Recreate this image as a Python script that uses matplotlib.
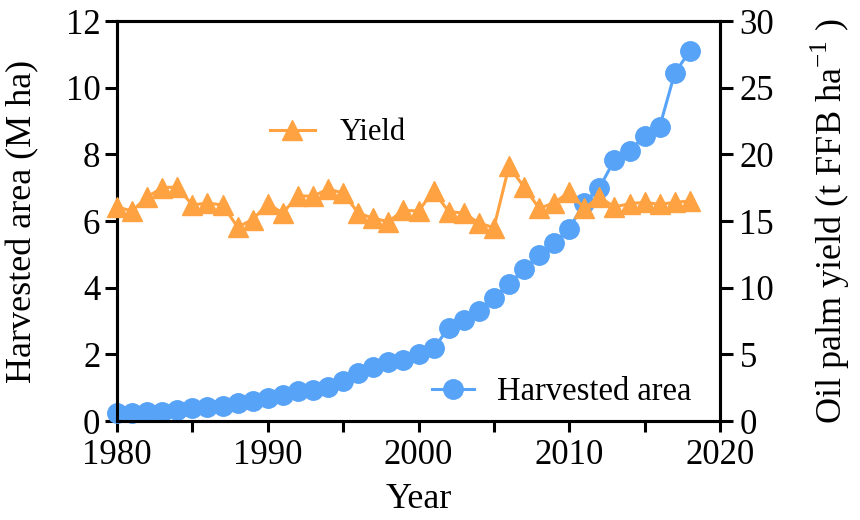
import numpy as np
import matplotlib
matplotlib.use("Agg")
import matplotlib.pyplot as plt
from matplotlib.ticker import MultipleLocator

plt.rcParams["font.family"] = ["Liberation Serif", "DejaVu Serif"]
plt.rcParams["mathtext.fontset"] = "custom"
plt.rcParams["mathtext.rm"] = "Liberation Serif"

# Oil palm harvested area (M ha) and yield (t FFB/ha), 1980-2018
years = list(range(1980, 2019))
harvested_area = [0.24, 0.25, 0.27, 0.28, 0.33, 0.38, 0.42, 0.46, 0.53, 0.60,
                  0.68, 0.78, 0.90, 0.93, 1.03, 1.20, 1.45, 1.62, 1.77, 1.83,
                  2.02, 2.18, 2.79, 3.03, 3.30, 3.70, 4.10, 4.56, 4.97, 5.35,
                  5.77, 6.55, 7.00, 7.83, 8.10, 8.55, 8.83, 10.44, 11.10]
yield_t = [16.05, 15.75, 16.8, 17.5, 17.55, 16.2, 16.35, 16.2, 14.55, 15.1,
           16.3, 15.6, 16.9, 16.85, 17.4, 17.1, 15.6, 15.2, 14.95, 15.8,
           15.75, 17.25, 15.7, 15.6, 14.85, 14.5, 19.1, 17.55, 15.95, 16.35,
           17.2, 15.95, 16.8, 16.05, 16.3, 16.4, 16.25, 16.4, 16.5]

BLUE = "#57a3f8"
ORANGE = "#ffa242"
LW = 2.2


def style_axis(ax):
    for side in ["left", "right", "top", "bottom"]:
        ax.spines[side].set_linewidth(LW)


fig = plt.figure(figsize=(8.6, 5.2), dpi=100)
ax = fig.add_axes([117 / 860, 1 - 421 / 520, 603 / 860, 400 / 520])
ax2 = ax.twinx()

area_line, = ax.plot(years, harvested_area, color=BLUE, lw=2.2, marker="o",
                     ms=14, clip_on=False, zorder=5, label="Harvested area")
yield_line, = ax2.plot(years, yield_t, color=ORANGE, lw=2.2, marker="^",
                       ms=14, clip_on=False, zorder=5, label="Yield")

ax.set_xlim(1980, 2020)
ax.set_ylim(0, 12)
ax2.set_ylim(0, 30)

ax.xaxis.set_major_locator(MultipleLocator(10))
ax.xaxis.set_minor_locator(MultipleLocator(5))
ax.yaxis.set_major_locator(MultipleLocator(2))
ax2.yaxis.set_major_locator(MultipleLocator(5))

ax.tick_params(axis="x", which="both", direction="out", length=8, width=LW,
               labelsize=25, pad=5, top=False)
ax.tick_params(axis="y", direction="out", length=9, width=LW,
               labelsize=25, pad=3)
ax2.tick_params(axis="y", direction="out", length=9, width=LW,
                labelsize=25, pad=5)

style_axis(ax)
style_axis(ax2)

ax.set_xlabel("Year", fontsize=26)
ax.set_ylabel("Harvested area (M ha)", fontsize=26)
ax2.set_ylabel(r"Oil palm yield (t FFB ha$^{\mathregular{-1}}$ )", fontsize=26,
               rotation=90)
ax.xaxis.set_label_coords(0.5, -0.155)
ax.yaxis.set_label_coords(-0.128, 0.5)
ax2.yaxis.set_label_coords(1.148, 0.5)

leg1 = ax2.legend(handles=[yield_line], loc="center left", frameon=False,
                  bbox_to_anchor=(270 / 860, 1 - 133 / 520),
                  bbox_transform=fig.transFigure, borderpad=0,
                  borderaxespad=0, handlelength=1.47, handletextpad=0.82,
                  fontsize=22)
ax2.add_artist(leg1)
ax2.legend(handles=[area_line], loc="center left", frameon=False,
           bbox_to_anchor=(432 / 860, 1 - 392 / 520),
           bbox_transform=fig.transFigure, borderpad=0,
           borderaxespad=0, handlelength=1.3, handletextpad=0.7,
           fontsize=23.5)

fig.savefig("out.png", dpi=100)
